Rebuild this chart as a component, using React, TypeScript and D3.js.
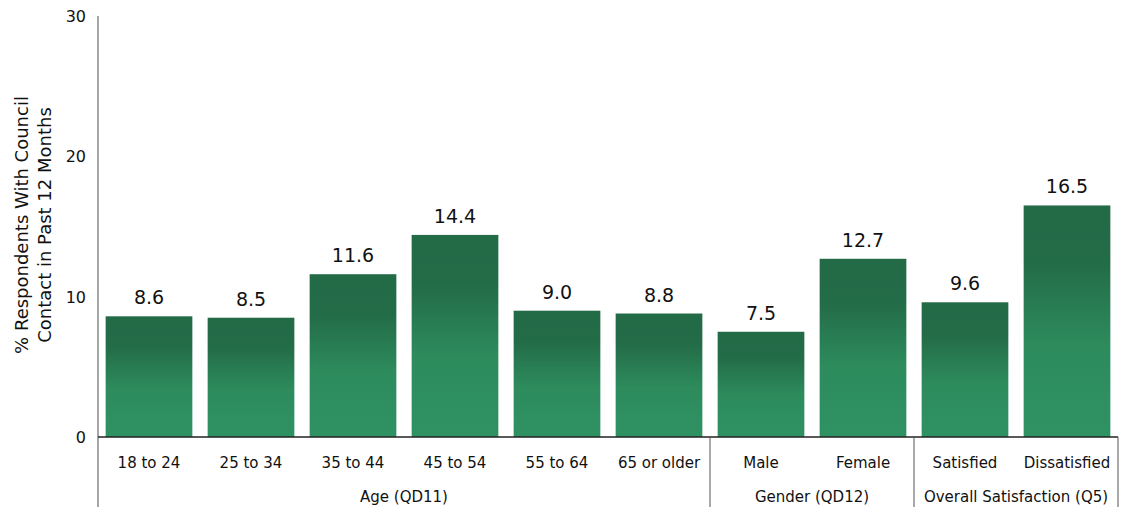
import React from "react";
import * as d3 from "d3";

const categories = ["18 to 24", "25 to 34", "35 to 44", "45 to 54", "55 to 64", "65 or older", "Male", "Female", "Satisfied", "Dissatisfied"];
const values = [8.6, 8.5, 11.6, 14.4, 9.0, 8.8, 7.5, 12.7, 9.6, 16.5];
const groupNames = ["Age (QD11)", "Gender (QD12)", "Overall Satisfaction (Q5)"];
const groupSizes = [6, 2, 2];
const yTicks = [0, 10, 20, 30];

export default function App() {
  const W = 1122, H = 513;
  const left = 98, right = 1118, top = 16, bottom = 437;
  const x = d3.scaleBand<string>().domain(categories).range([left, right]).paddingInner(0.15).paddingOuter(0.075);
  const y = d3.scaleLinear().domain([0, 30]).range([bottom, top]);
  const step = x.step();
  const font = "DejaVu Sans, Verdana, sans-serif";
  let acc = 0;
  const groups = groupNames.map((g, i) => {
    const start = acc;
    acc += groupSizes[i];
    return { name: g, x0: left + start * step, x1: left + acc * step };
  });
  return (
    <svg width={W} height={H} style={{ position: "absolute", left: 0, top: 0, background: "#fff" }}>
      <defs>
        <linearGradient id="barGrad" x1="0" y1="0" x2="0" y2="1">
          <stop offset="0" stopColor="#236a47" />
          <stop offset="0.25" stopColor="#236c48" />
          <stop offset="0.6" stopColor="#2d8b5c" />
          <stop offset="1" stopColor="#2f9263" />
        </linearGradient>
      </defs>
      {values.map((v, i) => (
        <g key={i}>
          <rect x={x(categories[i])} y={y(v)} width={x.bandwidth()} height={y(0) - y(v)} fill="url(#barGrad)" />
          <text x={(x(categories[i]) as number) + x.bandwidth() / 2} y={y(v) - 12} textAnchor="middle" fontFamily={font} fontSize={19} fill="#111">
            {v.toFixed(1)}
          </text>
        </g>
      ))}
      <line x1={left} x2={left} y1={top} y2={507} stroke="#888" strokeWidth={1.5} />
      <line x1={left} x2={right} y1={bottom} y2={bottom} stroke="#222" strokeWidth={1.5} />
      {groups.map((g, i) => (
        <g key={g.name}>
          {i > 0 && <line x1={g.x0} x2={g.x0} y1={bottom} y2={507} stroke="#555" strokeWidth={1} />}
          <text x={(g.x0 + g.x1) / 2} y={502} textAnchor="middle" fontFamily={font} fontSize={15} fill="#111">{g.name}</text>
        </g>
      ))}
      <line x1={right} x2={right} y1={bottom} y2={507} stroke="#555" strokeWidth={1} />
      {categories.map((c) => (
        <text key={c} x={(x(c) as number) + x.bandwidth() / 2} y={468} textAnchor="middle" fontFamily={font} fontSize={15} fill="#111">{c}</text>
      ))}
      {yTicks.map((t) => (
        <text key={t} x={86} y={y(t) + 6} textAnchor="end" fontFamily={font} fontSize={16} fill="#111">{t}</text>
      ))}
      <text transform={`translate(28,225) rotate(-90)`} textAnchor="middle" fontFamily={font} fontSize={18} fill="#111">
        <tspan x={0} dy={0}>% Respondents With Council</tspan>
        <tspan x={0} dy={23}>Contact in Past 12 Months</tspan>
      </text>
    </svg>
  );
}
